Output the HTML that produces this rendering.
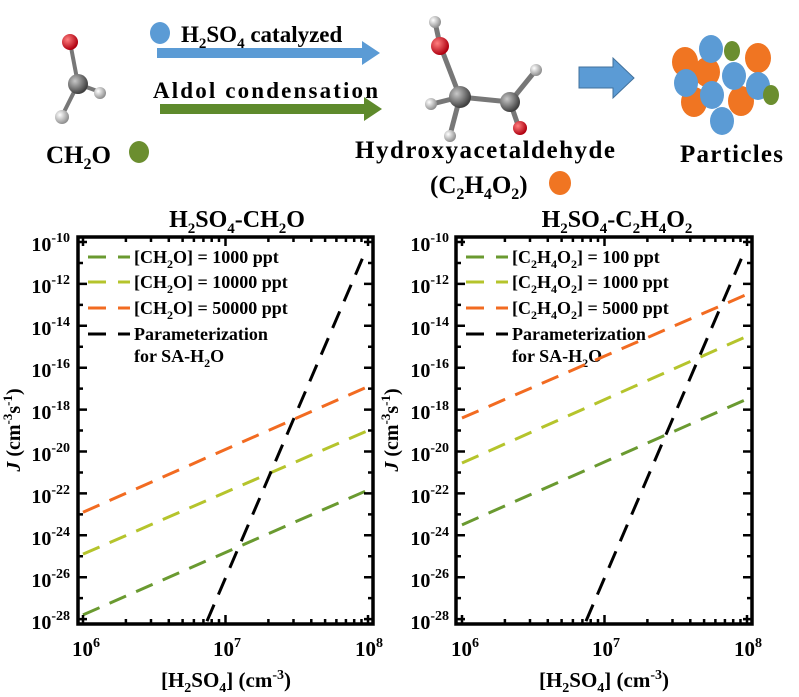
<!DOCTYPE html>
<html><head><meta charset="utf-8"><style>
body{margin:0;background:#fff;}
svg{display:block;font-family:"Liberation Serif",serif;font-weight:bold;}
</style></head><body>
<svg id="s" width="799" height="697" viewBox="0 0 799 697" xmlns="http://www.w3.org/2000/svg">
<defs>
<radialGradient id="gr" cx="35%" cy="35%" r="65%"><stop offset="0" stop-color="#ff8080"/><stop offset="1" stop-color="#b00010"/></radialGradient>
<radialGradient id="gg" cx="35%" cy="35%" r="65%"><stop offset="0" stop-color="#c8c8c8"/><stop offset="1" stop-color="#404040"/></radialGradient>
<radialGradient id="gw" cx="35%" cy="35%" r="65%"><stop offset="0" stop-color="#ffffff"/><stop offset="1" stop-color="#909090"/></radialGradient>
</defs>
<!-- CH2O molecule -->
<g stroke="#777" stroke-width="4"><line x1="70" y1="42" x2="78" y2="84"/><line x1="78" y1="84" x2="100" y2="92"/><line x1="78" y1="84" x2="62" y2="116"/></g>
<circle cx="70" cy="42" r="8" fill="url(#gr)"/><circle cx="78" cy="84" r="10" fill="url(#gg)"/><circle cx="100" cy="93" r="6" fill="url(#gw)"/><circle cx="62" cy="117" r="7" fill="url(#gw)"/>
<text x="46" y="163" font-size="25">CH<tspan font-size="16" dy="6">2</tspan><tspan dy="-6">O</tspan></text>
<ellipse cx="139" cy="152" rx="10" ry="11" fill="#6b8e2f"/>
<!-- arrows -->
<ellipse cx="160" cy="33" rx="10" ry="11" fill="#5b9bd5"/>
<text x="181" y="42" font-size="23">H<tspan font-size="15" dy="6">2</tspan><tspan dy="-6">SO</tspan><tspan font-size="15" dy="6">4</tspan><tspan dy="-6"> catalyzed</tspan></text>
<polygon points="157,48 362,48 362,41 380,53 362,65 362,58 157,58" fill="#5b9bd5"/>
<text x="153" y="98" font-size="23" textLength="225">Aldol condensation</text>
<polygon points="160,104 364,104 364,97 382,109 364,121 364,114 160,114" fill="#5e8a2c"/>
<!-- hydroxyacetaldehyde -->
<g stroke="#777" stroke-width="5"><line x1="435" y1="22" x2="440" y2="45"/><line x1="440" y1="45" x2="460" y2="97"/><line x1="460" y1="97" x2="510" y2="102"/><line x1="510" y1="102" x2="536" y2="70"/><line x1="510" y1="102" x2="519" y2="128"/><line x1="460" y1="97" x2="432" y2="104"/><line x1="460" y1="97" x2="450" y2="135"/></g>
<circle cx="435" cy="22" r="6" fill="url(#gw)"/><circle cx="440" cy="46" r="9" fill="url(#gr)"/><circle cx="460" cy="97" r="11" fill="url(#gg)"/><circle cx="510" cy="102" r="10" fill="url(#gg)"/><circle cx="536" cy="70" r="6" fill="url(#gw)"/><circle cx="520" cy="128" r="7" fill="url(#gr)"/><circle cx="431" cy="104" r="6" fill="url(#gw)"/><circle cx="450" cy="136" r="6" fill="url(#gw)"/>
<text x="355" y="158" font-size="25" textLength="260">Hydroxyacetaldehyde</text>
<text x="430" y="193" font-size="25">(C<tspan font-size="16" dy="6">2</tspan><tspan dy="-6">H</tspan><tspan font-size="16" dy="6">4</tspan><tspan dy="-6">O</tspan><tspan font-size="16" dy="6">2</tspan><tspan dy="-6">)</tspan></text>
<ellipse cx="560" cy="183" rx="11" ry="12" fill="#f07522"/>
<!-- block arrow -->
<polygon points="579,67 613,67 613,58 634,78 613,98 613,88 579,88" fill="#5b9bd5" stroke="#41719c" stroke-width="1"/>
<!-- particles -->
<g>
<ellipse cx="685" cy="62" rx="13" ry="15" fill="#f07522"/><ellipse cx="758" cy="58" rx="13" ry="15" fill="#f07522"/><ellipse cx="707" cy="72" rx="13" ry="15" fill="#f07522"/>
<ellipse cx="694" cy="102" rx="13" ry="15" fill="#f07522"/><ellipse cx="741" cy="101" rx="13" ry="15" fill="#f07522"/>
<ellipse cx="711" cy="49" rx="12" ry="14" fill="#5b9bd5"/><ellipse cx="732" cy="51" rx="8" ry="10" fill="#6b8e2f"/>
<ellipse cx="686" cy="83" rx="12" ry="14" fill="#5b9bd5"/><ellipse cx="734" cy="76" rx="12" ry="14" fill="#5b9bd5"/><ellipse cx="758" cy="86" rx="12" ry="14" fill="#5b9bd5"/>
<ellipse cx="771" cy="95" rx="8" ry="10" fill="#6b8e2f"/><ellipse cx="712" cy="95" rx="12" ry="14" fill="#5b9bd5"/><ellipse cx="722" cy="121" rx="12" ry="14" fill="#5b9bd5"/>
</g>
<text x="680" y="162" font-size="25" textLength="103">Particles</text>

<!-- titles -->
<text x="237" y="227" font-size="24" text-anchor="middle">H<tspan font-size="15" dy="6">2</tspan><tspan dy="-6">SO</tspan><tspan font-size="15" dy="6">4</tspan><tspan dy="-6">-CH</tspan><tspan font-size="15" dy="6">2</tspan><tspan dy="-6">O</tspan></text>
<text x="617" y="227" font-size="24" text-anchor="middle">H<tspan font-size="15" dy="6">2</tspan><tspan dy="-6">SO</tspan><tspan font-size="15" dy="6">4</tspan><tspan dy="-6">-C</tspan><tspan font-size="15" dy="6">2</tspan><tspan dy="-6">H</tspan><tspan font-size="15" dy="6">4</tspan><tspan dy="-6">O</tspan><tspan font-size="15" dy="6">2</tspan></text>

<!-- y labels -->
<g font-size="20">
<text transform="translate(20,430) rotate(-90)" text-anchor="middle"><tspan font-style="italic">J</tspan> (cm<tspan font-size="13" dy="-8">-3</tspan><tspan dy="8">s</tspan><tspan font-size="13" dy="-8">-1</tspan><tspan dy="8">)</tspan></text>
<text transform="translate(398,430) rotate(-90)" text-anchor="middle"><tspan font-style="italic">J</tspan> (cm<tspan font-size="13" dy="-8">-3</tspan><tspan dy="8">s</tspan><tspan font-size="13" dy="-8">-1</tspan><tspan dy="8">)</tspan></text>
</g>
<!-- tick labels left -->
<g font-size="20" text-anchor="end">
<text x="70" y="251">10<tspan font-size="14" dy="-9">-10</tspan></text>
<text x="70" y="293">10<tspan font-size="14" dy="-9">-12</tspan></text>
<text x="70" y="335">10<tspan font-size="14" dy="-9">-14</tspan></text>
<text x="70" y="377">10<tspan font-size="14" dy="-9">-16</tspan></text>
<text x="70" y="419">10<tspan font-size="14" dy="-9">-18</tspan></text>
<text x="70" y="461">10<tspan font-size="14" dy="-9">-20</tspan></text>
<text x="70" y="503">10<tspan font-size="14" dy="-9">-22</tspan></text>
<text x="70" y="545">10<tspan font-size="14" dy="-9">-24</tspan></text>
<text x="70" y="587">10<tspan font-size="14" dy="-9">-26</tspan></text>
<text x="70" y="629">10<tspan font-size="14" dy="-9">-28</tspan></text>
</g>
<g font-size="20" text-anchor="end">
<text x="449" y="251">10<tspan font-size="14" dy="-9">-10</tspan></text>
<text x="449" y="293">10<tspan font-size="14" dy="-9">-12</tspan></text>
<text x="449" y="335">10<tspan font-size="14" dy="-9">-14</tspan></text>
<text x="449" y="377">10<tspan font-size="14" dy="-9">-16</tspan></text>
<text x="449" y="419">10<tspan font-size="14" dy="-9">-18</tspan></text>
<text x="449" y="461">10<tspan font-size="14" dy="-9">-20</tspan></text>
<text x="449" y="503">10<tspan font-size="14" dy="-9">-22</tspan></text>
<text x="449" y="545">10<tspan font-size="14" dy="-9">-24</tspan></text>
<text x="449" y="587">10<tspan font-size="14" dy="-9">-26</tspan></text>
<text x="449" y="629">10<tspan font-size="14" dy="-9">-28</tspan></text>
</g>
<!-- x tick labels -->
<g font-size="21">
<text x="72" y="656">10<tspan font-size="14" dy="-9">6</tspan></text>
<text x="213" y="656">10<tspan font-size="14" dy="-9">7</tspan></text>
<text x="355" y="656">10<tspan font-size="14" dy="-9">8</tspan></text>
<text x="451" y="656">10<tspan font-size="14" dy="-9">6</tspan></text>
<text x="592" y="656">10<tspan font-size="14" dy="-9">7</tspan></text>
<text x="734" y="656">10<tspan font-size="14" dy="-9">8</tspan></text>
</g>
<g font-size="21" text-anchor="middle">
<text x="226" y="687">[H<tspan font-size="14" dy="5">2</tspan><tspan dy="-5">SO</tspan><tspan font-size="14" dy="5">4</tspan><tspan dy="-5">] (cm</tspan><tspan font-size="14" dy="-8">-3</tspan><tspan dy="8">)</tspan></text>
<text x="604" y="687">[H<tspan font-size="14" dy="5">2</tspan><tspan dy="-5">SO</tspan><tspan font-size="14" dy="5">4</tspan><tspan dy="-5">] (cm</tspan><tspan font-size="14" dy="-8">-3</tspan><tspan dy="8">)</tspan></text>
</g>
<!-- legends -->
<g font-size="18">
<text x="134" y="263">[CH<tspan font-size="12" dy="5">2</tspan><tspan dy="-5">O] = 1000 ppt</tspan></text>
<text x="134" y="288">[CH<tspan font-size="12" dy="5">2</tspan><tspan dy="-5">O] = 10000 ppt</tspan></text>
<text x="134" y="314">[CH<tspan font-size="12" dy="5">2</tspan><tspan dy="-5">O] = 50000 ppt</tspan></text>
<text x="134" y="340">Parameterization</text>
<text x="134" y="362">for SA-H<tspan font-size="12" dy="5">2</tspan><tspan dy="-5">O</tspan></text>
<text x="512" y="263">[C<tspan font-size="12" dy="5">2</tspan><tspan dy="-5">H</tspan><tspan font-size="12" dy="5">4</tspan><tspan dy="-5">O</tspan><tspan font-size="12" dy="5">2</tspan><tspan dy="-5">] = 100 ppt</tspan></text>
<text x="512" y="288">[C<tspan font-size="12" dy="5">2</tspan><tspan dy="-5">H</tspan><tspan font-size="12" dy="5">4</tspan><tspan dy="-5">O</tspan><tspan font-size="12" dy="5">2</tspan><tspan dy="-5">] = 1000 ppt</tspan></text>
<text x="512" y="314">[C<tspan font-size="12" dy="5">2</tspan><tspan dy="-5">H</tspan><tspan font-size="12" dy="5">4</tspan><tspan dy="-5">O</tspan><tspan font-size="12" dy="5">2</tspan><tspan dy="-5">] = 5000 ppt</tspan></text>
<text x="512" y="340">Parameterization</text>
<text x="512" y="362">for SA-H<tspan font-size="12" dy="5">2</tspan><tspan dy="-5">O</tspan></text>
</g>
<g id="plots"></g>
</svg>
<script>
(function(){
var NS="http://www.w3.org/2000/svg",g=document.getElementById("plots");
function el(n,a){var e=document.createElementNS(NS,n);for(var k in a)e.setAttribute(k,a[k]);g.appendChild(e);return e;}
var Y0=242,DY=20.95;
function py(v){return Y0+(-10-v)*DY;}
var G="#6a9a30",Y="#b5c42c",O="#f26b21",K="#000";
function plot(L,R,X6,series){
  var T=237,B=624;
  function px(lx){return X6+(lx-6)*142.5;}
  var cid="c"+L;
  var cp=document.createElementNS(NS,"clipPath");cp.setAttribute("id",cid);
  var r=document.createElementNS(NS,"rect");r.setAttribute("x",L);r.setAttribute("y",T);r.setAttribute("width",R-L);r.setAttribute("height",B-T);
  cp.appendChild(r);g.appendChild(cp);
  series.forEach(function(s){
    el("line",{x1:px(s[0]),y1:py(s[1]),x2:px(s[2]),y2:py(s[3]),stroke:s[4],"stroke-width":3,"stroke-dasharray":"18 11","clip-path":"url(#"+cid+")"});
  });
  var cols=[G,Y,O,K];
  for(var i=0;i<4;i++){var yy=[257,282,308,334][i];
    el("line",{x1:L+10,y1:yy,x2:L+52,y2:yy,stroke:cols[i],"stroke-width":3,"stroke-dasharray":"18 12"});}
  var d="";
  for(var v=-10;v>=-28;v--){var y=py(v),len=(v%2==0)?9:5;d+="M"+L+" "+y+"h"+len+"M"+R+" "+y+"h-"+len;}
  for(var e=6;e<=8;e++){for(var m=1;m<=9;m++){if(e==8&&m>1)break;var lx=e+Math.log10(m);var x=px(lx),len=(m==1)?9:5;d+="M"+x+" "+B+"v-"+len+"M"+x+" "+T+"v"+len;}}
  el("path",{d:d,stroke:"#000","stroke-width":2.5,fill:"none"});
  el("rect",{x:L,y:T,width:R-L,height:B-T,fill:"none",stroke:"#000","stroke-width":3.5});
}
plot(78,373,83,[[6,-27.8,8,-21.84,G],[6,-24.9,8,-19.0,Y],[6,-22.9,8,-16.9,O],[6.87,-28.1,7.96,-10.8,K]]);
plot(456,752,462,[[6,-23.5,8,-17.5,G],[6,-20.55,8,-14.5,Y],[6,-18.4,8,-12.5,O],[6.87,-28.1,7.96,-10.8,K]]);
})();
</script>
</body></html>
